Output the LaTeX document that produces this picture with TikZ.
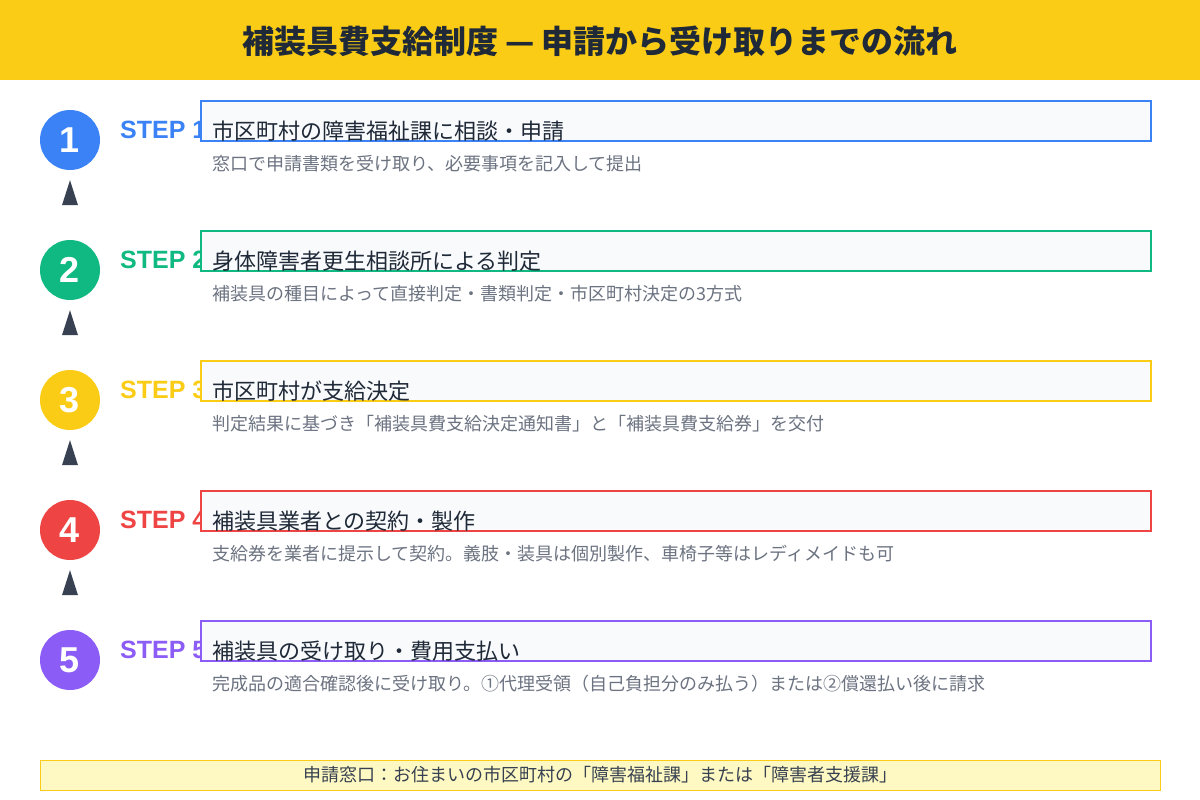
\documentclass[tikz,border=0pt]{standalone}
\usepackage{fontspec}
\setmainfont{Noto Sans CJK JP}
\newfontfamily\latinfont{Liberation Sans}
\usetikzlibrary{calc}
\definecolor{titleyellow}{HTML}{FACC15}
\definecolor{stepblue}{HTML}{3B82F6}
\definecolor{stepgreen}{HTML}{10B981}
\definecolor{stepyellow}{HTML}{FACC15}
\definecolor{stepred}{HTML}{EF4444}
\definecolor{steppurple}{HTML}{8B5CF6}
\definecolor{boxfill}{HTML}{F8FAFC}
\definecolor{textdark}{HTML}{1F2937}
\definecolor{textgray}{HTML}{6B7280}
\definecolor{arrowgray}{HTML}{374151}
\definecolor{notefill}{HTML}{FEF9C3}
\newcommand{\FlowStep}[5]% #1=number, #2=y of circle centre, #3=colour, #4=title, #5=description
{\node[circle, fill=#3, minimum size=60, inner sep=0, text=white,
      font=\latinfont\bfseries\fontsize{36}{36}\selectfont] (c#1) at (70,#2) {#1};
  \node[anchor=base west, inner sep=0, text=#3,
      font=\latinfont\bfseries\fontsize{25}{25}\selectfont] (s#1) at (120,#2-2) {STEP #1};
  \node[draw=#3, line width=2, fill=boxfill, anchor=north west, inner sep=0,
      minimum width=950, minimum height=40] (b#1) at (200,#2-40) {};
  \node[anchor=west, inner sep=0, text=textdark,
      font=\fontsize{22}{26}\selectfont] (t#1) at (212,#2-9) {#4};
  \node[anchor=west, inner sep=0, text=textgray,
      font=\fontsize{18}{22}\selectfont] (d#1) at (212,#2+24) {#5};
}

\begin{document}
\begin{tikzpicture}[x=1pt,y=-1pt]
  \useasboundingbox (0,0) rectangle (1200,800);
  % title bar
  \fill[titleyellow] (0,0) rectangle (1200,80);
  \node[text=textdark, font=\bfseries\fontsize{32}{38}\selectfont] (title) at (600,41)
    {補装具費支給制度 — 申請から受け取りまでの流れ};
  % steps
  \FlowStep{1}{140}{stepblue}{市区町村の障害福祉課に相談・申請}{窓口で申請書類を受け取り、必要事項を記入して提出}
  \FlowStep{2}{270}{stepgreen}{身体障害者更生相談所による判定}{補装具の種目によって直接判定・書類判定・市区町村決定の3方式}
  \FlowStep{3}{400}{stepyellow}{市区町村が支給決定}{判定結果に基づき「補装具費支給決定通知書」と「補装具費支給券」を交付}
  \FlowStep{4}{530}{stepred}{補装具業者との契約・製作}{支給券を業者に提示して契約。義肢・装具は個別製作、車椅子等はレディメイドも可}
  \FlowStep{5}{660}{steppurple}{補装具の受け取り・費用支払い}{完成品の適合確認後に受け取り。①代理受領（自己負担分のみ払う）または②償還払い後に請求}
  % arrow heads between circles
  \fill[arrowgray] ($(c1.south)+(0,10)$) -- ++(8,25) -- ++(-16,0) -- cycle;
  \fill[arrowgray] ($(c2.south)+(0,10)$) -- ++(8,25) -- ++(-16,0) -- cycle;
  \fill[arrowgray] ($(c3.south)+(0,10)$) -- ++(8,25) -- ++(-16,0) -- cycle;
  \fill[arrowgray] ($(c4.south)+(0,10)$) -- ++(8,25) -- ++(-16,0) -- cycle;
  % note at the bottom
  \node[draw=titleyellow, fill=notefill, line width=1, inner sep=0,
      minimum width=1120, minimum height=30, text=arrowgray,
      font=\fontsize{18}{21}\selectfont] (note) at (600,775)
    {申請窓口：お住まいの市区町村の「障害福祉課」または「障害者支援課」};
\end{tikzpicture}
\end{document}
